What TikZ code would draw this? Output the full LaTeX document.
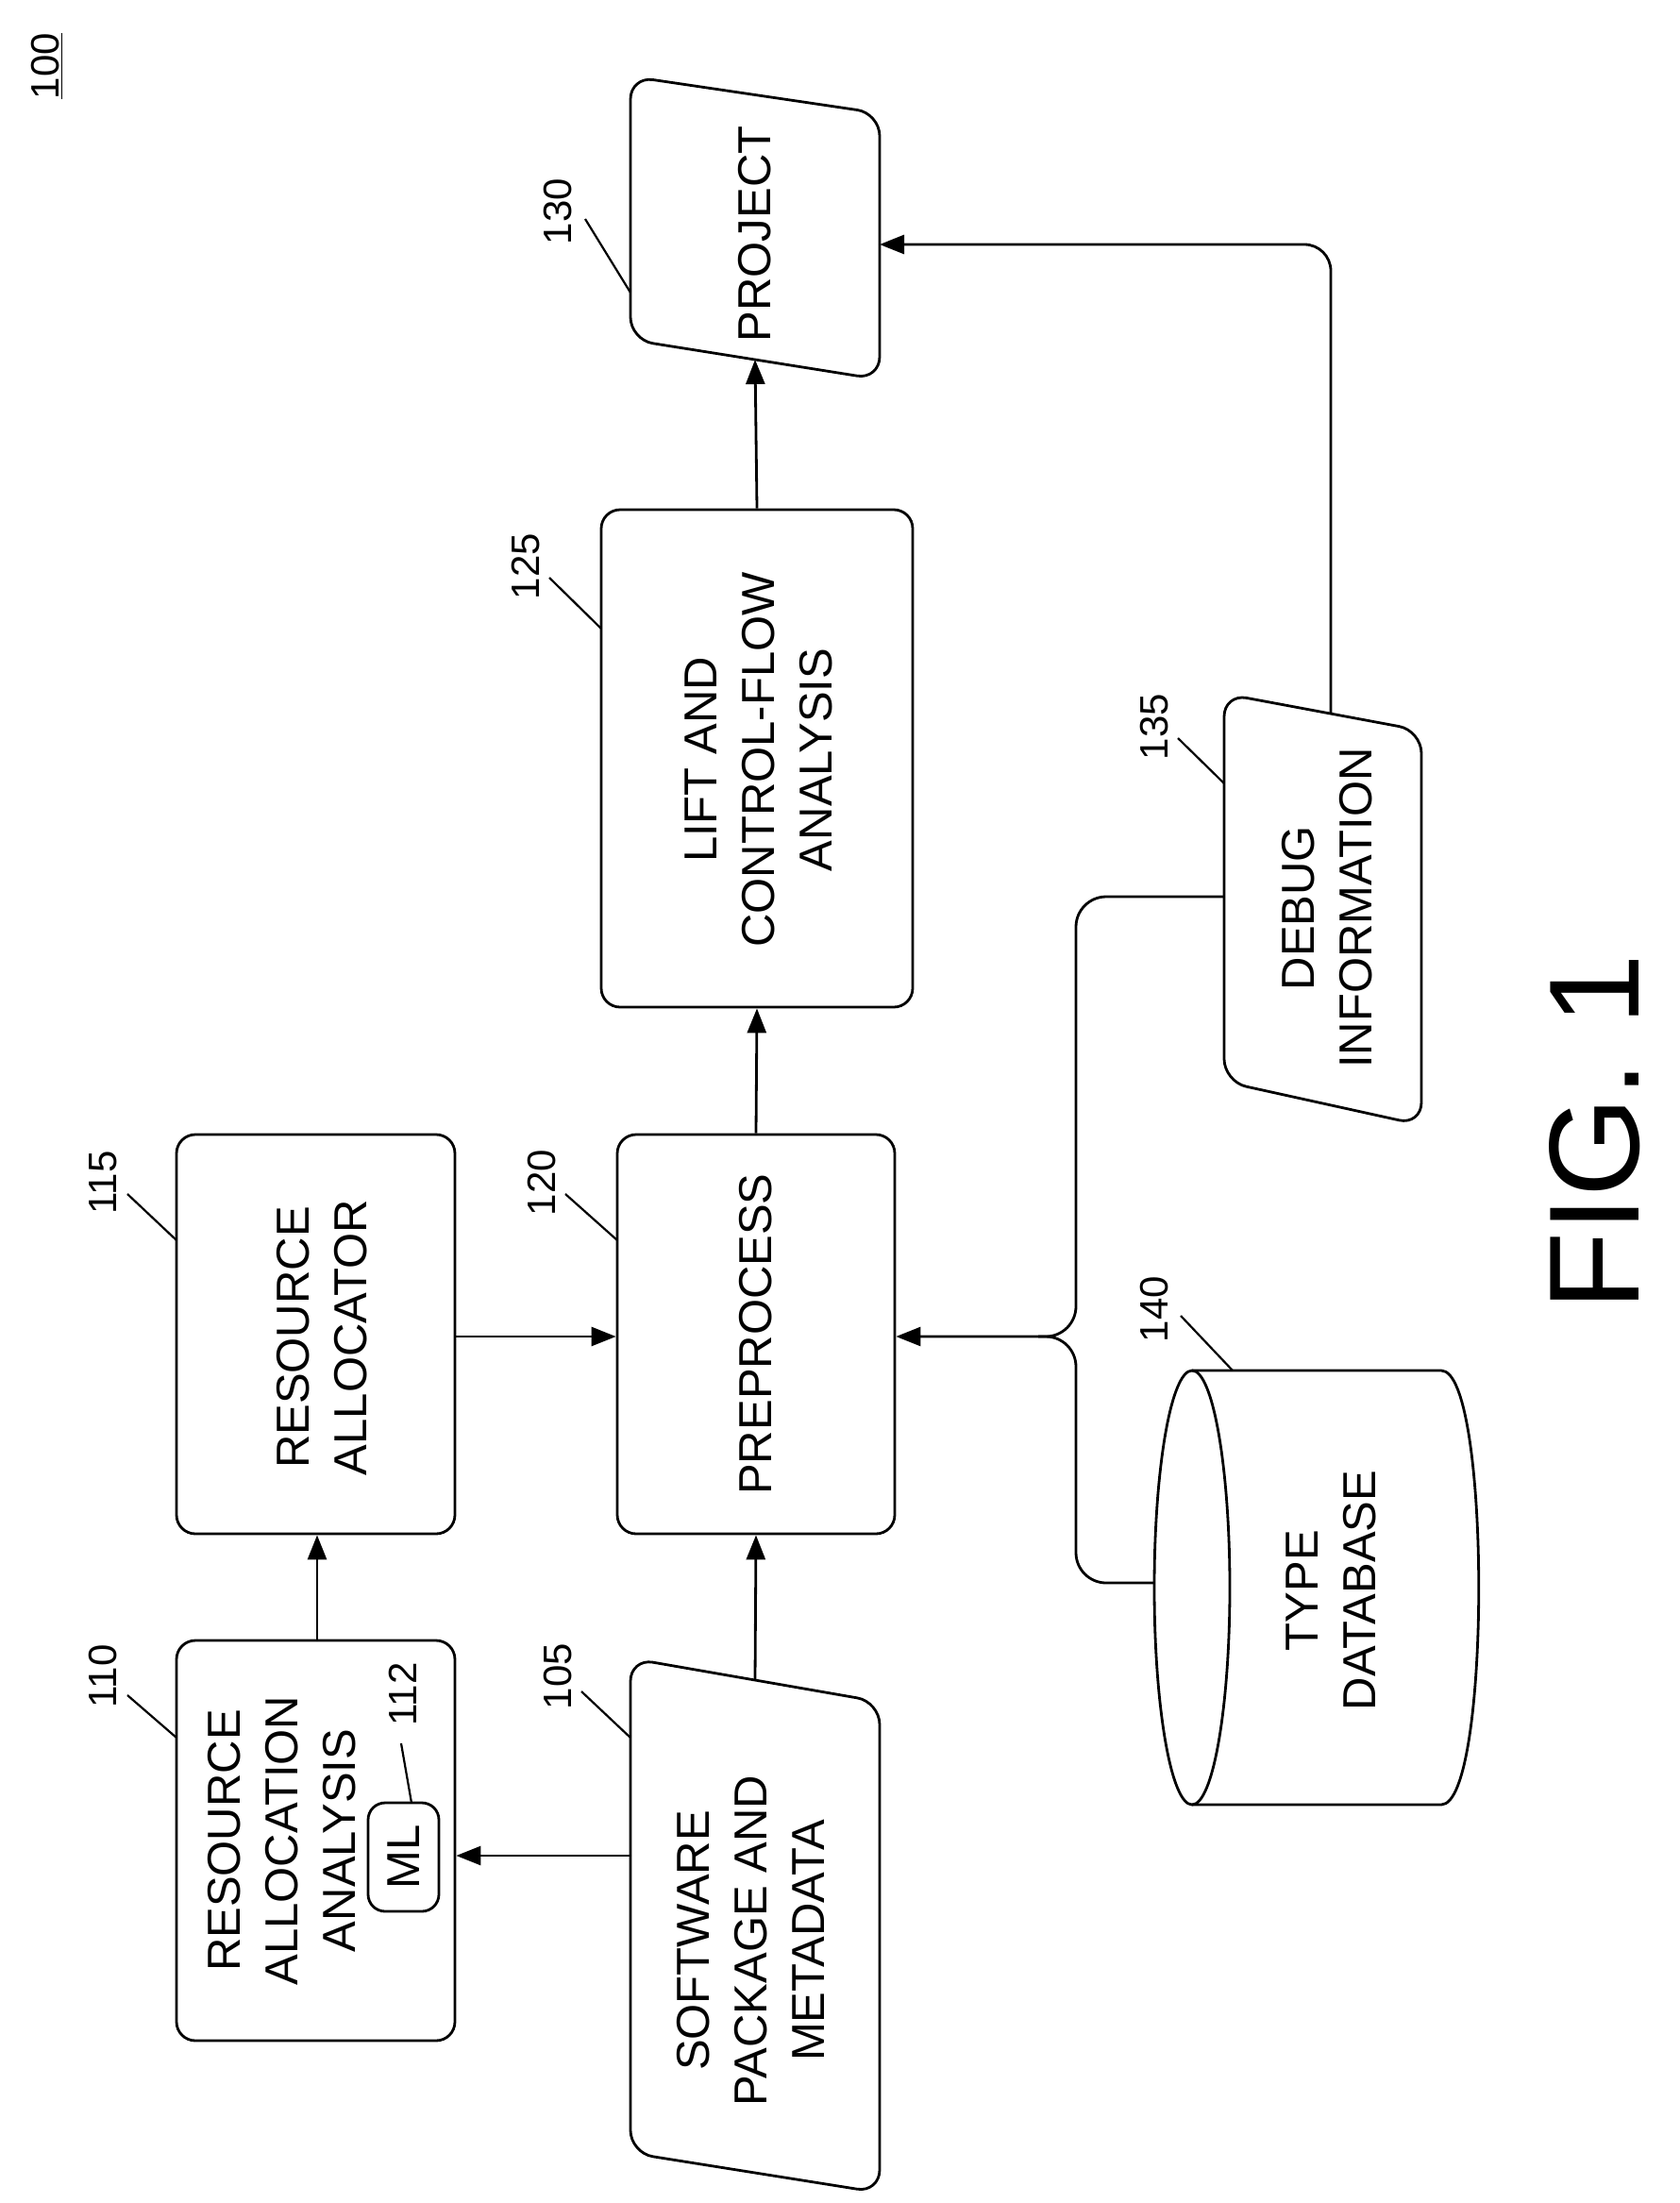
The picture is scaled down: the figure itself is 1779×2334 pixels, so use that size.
\documentclass[tikz,border=0pt]{standalone}
\usepackage{fontspec}
\setmainfont{Liberation Sans}
\usetikzlibrary{arrows.meta}
\begin{document}
\begin{tikzpicture}[x=0.5pt,y=-0.5pt,
  every node/.style={inner sep=0pt},
  ln/.style={line width=1.4pt},
  box/.style={draw,ln,rounded corners=10pt,rectangle},
  txt/.style={rotate=90,align=center,font=\fontsize{24.5}{30.5}\selectfont},
  lbl/.style={rotate=90,font=\fontsize{21}{24}\selectfont},
  lead/.style={line width=1.1pt},
  arr/.style={ln,-{Triangle[length=13pt,width=10pt]}},
  shp/.style={draw,ln,rounded corners=12pt}]
\useasboundingbox (0,0) rectangle (1779,2334);
% title
\node[lbl] (t100) at (50,70) {\underline{100}};
% boxes
\node[box,minimum width=147.5pt,minimum height=212pt] (b110) at (334.5,1950) {};
\node[txt] (t110) at (299,1950) {RESOURCE\\ALLOCATION\\ANALYSIS};
\node[box,rounded corners=9pt,minimum width=37.5pt,minimum height=57.5pt] (ml) at (427.5,1967.5) {};
\node[txt] (tml) at (ml) {ML};
\node[box,minimum width=147.5pt,minimum height=211.5pt] (b115) at (334.5,1413.5) {};
\node[txt] (t115) at (341,1417) {RESOURCE\\ALLOCATOR};
\node[box,minimum width=147pt,minimum height=211.5pt] (b120) at (801,1413.5) {};
\node[txt] (t120) at (b120) {PREPROCESS};
\node[box,minimum width=165pt,minimum height=263.5pt] (b125) at (802,803.5) {};
\node[txt] (t125) at (804,805) {LIFT AND\\CONTROL-FLOW\\ANALYSIS};
% parallelograms
\draw[shp] (668,81) -- (932,120) -- (932,402) -- (668,360) -- cycle;
\node[txt] (p130) at (800,248) {PROJECT};
\draw[shp] (668,1757) -- (932,1803) -- (932,2323) -- (668,2281) -- cycle;
\node[txt] (p105) at (795,2056) {SOFTWARE\\PACKAGE AND\\METADATA};
\draw[shp] (1297,735) -- (1506,774) -- (1506,1192) -- (1297,1146) -- cycle;
\node[txt] (p135) at (1406,962) {DEBUG\\INFORMATION};
% cylinder
\draw[ln] (1263,1682) ellipse [x radius=40, y radius=230];
\draw[ln] (1263,1452) -- (1527,1452) .. controls (1580,1452) and (1580,1912) .. (1527,1912) -- (1263,1912);
\node[txt] (c140) at (1410,1685) {TYPE\\DATABASE};
% anchors
\coordinate (a105top) at (800,1780);
\coordinate (a130bot) at (800,381);
\coordinate (a105l) at (668,1966);
\coordinate (a135top) at (1410,756);
\coordinate (a130r) at (932,259);
\coordinate (a135l) at (1297,950);
\coordinate (a140l) at (1223,1677);
\coordinate (bus) at (1140,1416);
% connectors
\draw[arr] (a105l) -- (a105l -| b110.east);
\draw[arr] (b110.north -| 336,0) -- (b115.south -| 336,0);
\draw[arr] (a105top) -- (b120.south);
\draw[arr] (b115.east |- 0,1416) -- (b120.west |- 0,1416);
\draw[arr] (b120.north) -- (b125.south);
\draw[arr] (b125.north) -- (a130bot);
\draw[arr,rounded corners=14pt] (a135top) |- (a130r);
\draw[arr,rounded corners=16pt] (a135l) -| (bus) -- (b120.east |- bus);
\draw[ln,rounded corners=16pt] (a140l) -| (bus) -- ++(-40,0);
% reference labels
\node[lbl] (l130) at (591,224) {130};
\draw[lead] (620,232) -- (668,310);
\node[lbl] (l125) at (557,600) {125};
\draw[lead] (582,612) -- (637,666);
\node[lbl] (l135) at (1223,770) {135};
\draw[lead] (1248,782) -- (1297,830);
\node[lbl] (l115) at (109,1253) {115};
\draw[lead] (135,1265) -- (187,1314);
\node[lbl] (l120) at (574,1253) {120};
\draw[lead] (599,1265) -- (654,1314);
\node[lbl] (l140) at (1223,1387) {140};
\draw[lead] (1251,1394) -- (1306,1452);
\node[lbl] (l110) at (109,1776) {110};
\draw[lead] (135,1796) -- (187,1841);
\node[lbl] (l105) at (591,1776) {105};
\draw[lead] (616,1792) -- (668,1841);
\node[lbl] (l112) at (427,1795) {112};
\draw[lead] (425,1847) -- (436,1910);
% figure caption
\node[rotate=90,font=\fontsize{68}{74}\selectfont] (fig) at (1690,1200) {FIG. 1};
\end{tikzpicture}
\end{document}
